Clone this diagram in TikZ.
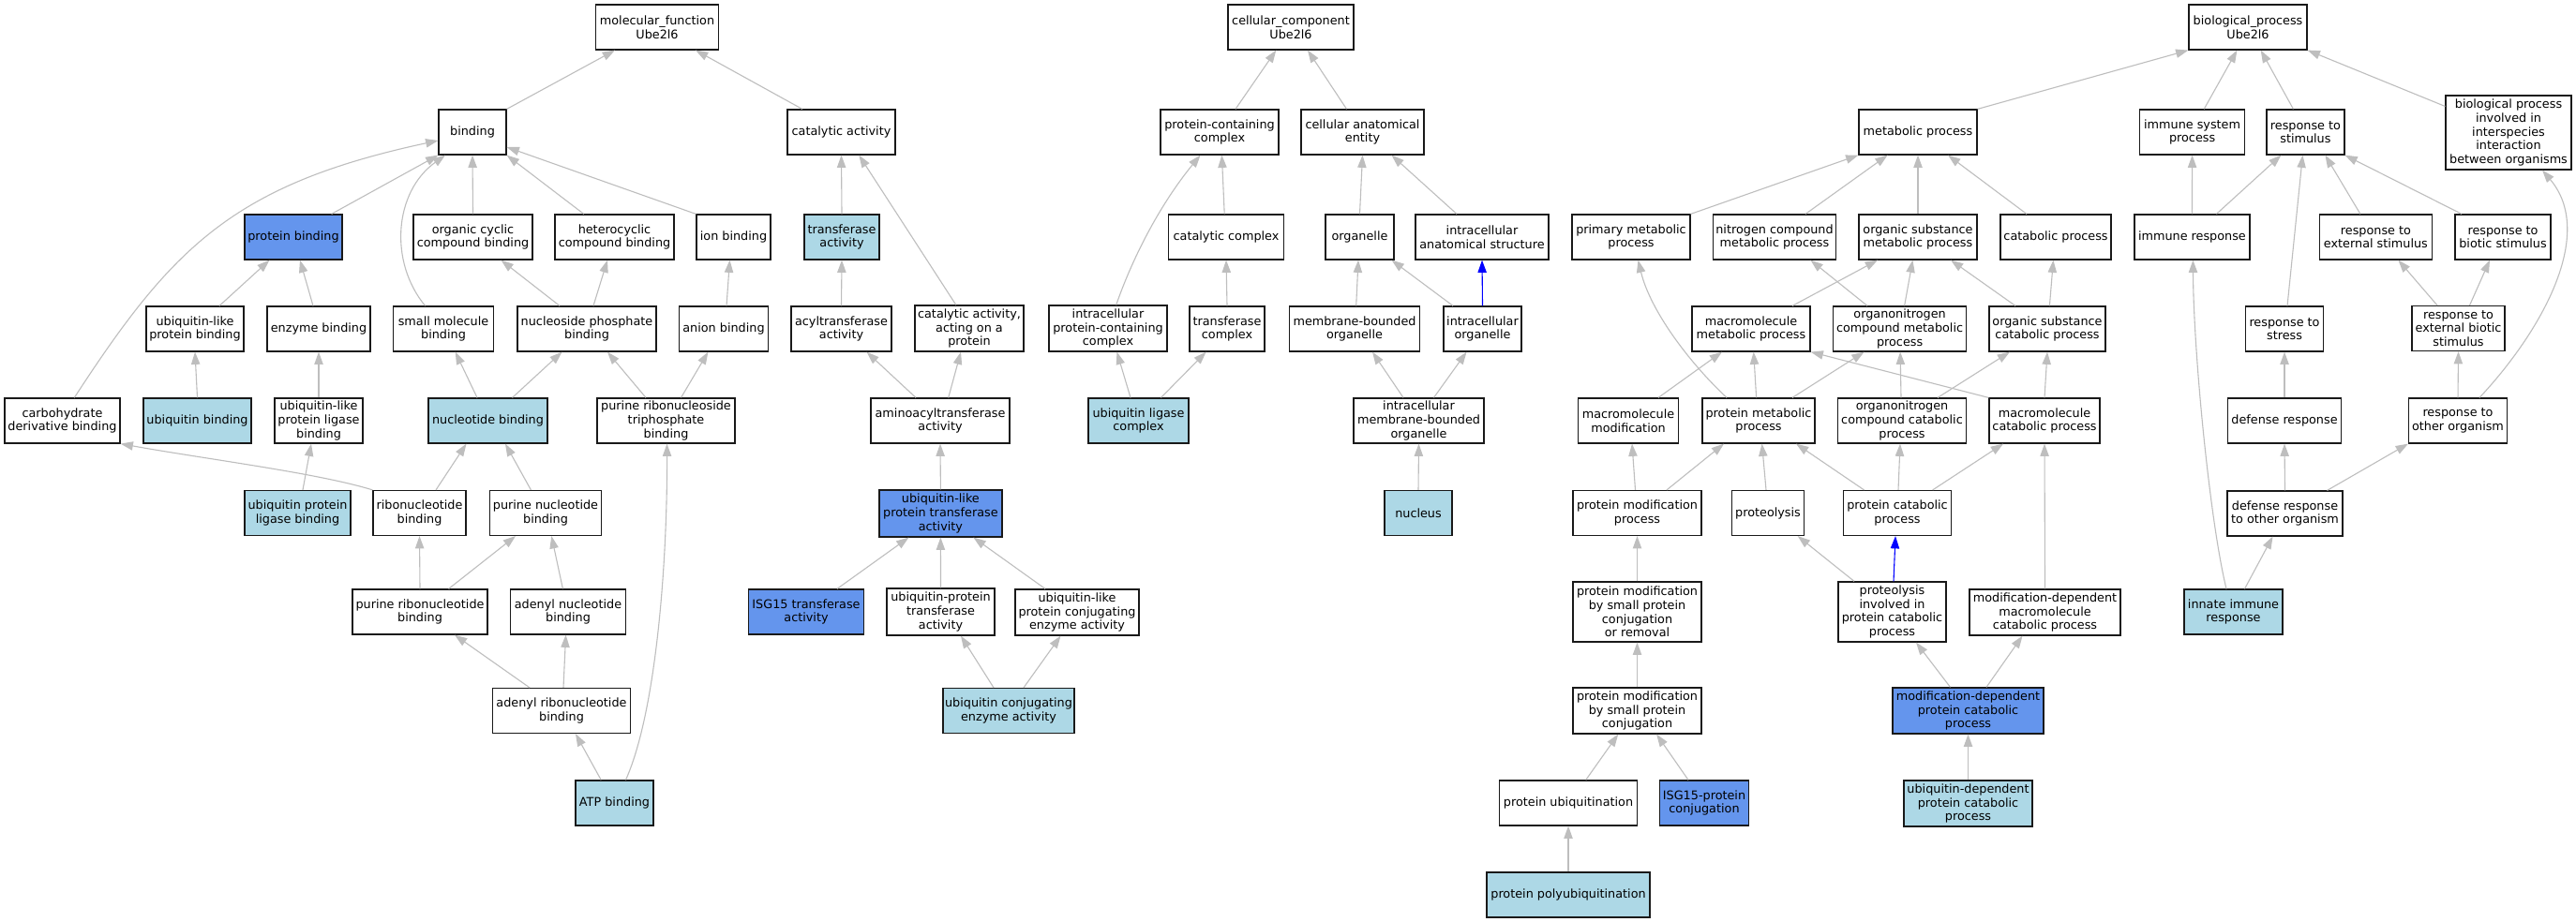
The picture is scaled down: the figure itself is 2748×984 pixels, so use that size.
\documentclass[tikz,border=0pt]{standalone}
\usepackage{fontspec}
\usetikzlibrary{arrows.meta}
\newfontfamily\gofam{DejaVu Sans}
\newcommand\gofont{\gofam\fontsize{12.8}{14.7}\selectfont}
\definecolor{edgegray}{HTML}{BEBEBE}
\definecolor{lblue}{HTML}{ADD8E6}
\definecolor{cblue}{HTML}{6495ED}
\tikzset{
  gobox/.style={draw=black!90, line width=1.2pt, rectangle, inner sep=0pt, align=center, font=\gofont, fill=white, minimum height=48pt},
  lb/.style={fill=lblue},
  db/.style={fill=cblue},
  goedge/.style={draw=edgegray, line width=1.1pt, -{Triangle[length=13.3pt,width=9.3pt]}},
  blueedge/.style={goedge, draw=blue}
}
\begin{document}
\begin{tikzpicture}[x=1pt,y=-1pt]
\useasboundingbox[fill=white] (0,0) rectangle (2748,984);
% ---------------- molecular function ----------------
\node[gobox, minimum width=131pt] (mf) at (701,29) {molecular\_function\\Ube2l6};
\node[gobox, minimum width=72pt] (bind) at (504,141) {binding};
\node[gobox, minimum width=115pt] (cat) at (897.5,141) {catalytic activity};
\node[gobox, db, minimum width=104pt] (pb) at (313,253) {protein binding};
\node[gobox, minimum width=127pt] (ocb) at (504.5,253) {organic cyclic\\compound binding};
\node[gobox, minimum width=127pt] (hcb) at (655.5,253) {heterocyclic\\compound binding};
\node[gobox, minimum width=79pt] (ionb) at (782.5,253) {ion binding};
\node[gobox, lb, minimum width=80pt] (tra) at (898,253) {transferase\\activity};
\node[gobox, minimum width=104pt] (ulpb) at (208,351) {ubiquitin-like\\protein binding};
\node[gobox, minimum width=110pt] (enz) at (340,351) {enzyme binding};
\node[gobox, minimum width=107pt] (smb) at (473,351) {small molecule\\binding};
\node[gobox, minimum width=148pt] (npb) at (626,351) {nucleoside phosphate\\binding};
\node[gobox, minimum width=95pt] (anb) at (772,351) {anion binding};
\node[gobox, minimum width=107pt] (acyl) at (897.5,351) {acyltransferase\\activity};
\node[gobox, minimum width=116pt, minimum height=49pt] (caap) at (1034,350.5) {catalytic activity,\\acting on a\\protein};
\node[gobox, minimum width=123pt] (cdb) at (66.5,449) {carbohydrate\\derivative binding};
\node[gobox, lb, minimum width=115pt] (ubb) at (210.5,449) {ubiquitin binding};
\node[gobox, minimum width=94pt] (ulplb) at (340,449) {ubiquitin-like\\protein ligase\\binding};
\node[gobox, lb, minimum width=127pt] (nucb) at (520.5,449) {nucleotide binding};
\node[gobox, minimum width=147pt] (prtb) at (710.5,449) {purine ribonucleoside\\triphosphate\\binding};
\node[gobox, minimum width=148pt] (amino) at (1003,449) {aminoacyltransferase\\activity};
\node[gobox, lb, minimum width=113pt] (uplb) at (317.5,547.5) {ubiquitin protein\\ligase binding};
\node[gobox, minimum width=99pt] (ribb) at (447.5,547.5) {ribonucleotide\\binding};
\node[gobox, minimum width=119pt] (pnb) at (582,547.5) {purine nucleotide\\binding};
\node[gobox, db, minimum width=131pt, minimum height=50pt] (ulpt) at (1003.4,548) {ubiquitin-like\\protein transferase\\activity};
\node[gobox, minimum width=144pt] (prb) at (448,653) {purine ribonucleotide\\binding};
\node[gobox, minimum width=123pt] (adnb) at (606,653) {adenyl nucleotide\\binding};
\node[gobox, db, minimum width=123pt] (isgt) at (860,653) {ISG15 transferase\\activity};
\node[gobox, minimum width=115pt, minimum height=50pt] (upt) at (1003.5,653) {ubiquitin-protein\\transferase\\activity};
\node[gobox, minimum width=132pt, minimum height=49pt] (ulpce) at (1149,653.5) {ubiquitin-like\\protein conjugating\\enzyme activity};
\node[gobox, minimum width=147pt] (arb) at (599,758.5) {adenyl ribonucleotide\\binding};
\node[gobox, lb, minimum width=140pt] (uce) at (1076,758.5) {ubiquitin conjugating\\enzyme activity};
\node[gobox, lb, minimum width=83pt] (atp) at (655.5,857) {ATP binding};
% ---------------- cellular component ----------------
\node[gobox, minimum width=134pt] (cc) at (1377,29) {cellular\_component\\Ube2l6};
\node[gobox, minimum width=126pt] (pcc) at (1301,141) {protein-containing\\complex};
\node[gobox, minimum width=131pt] (cae) at (1453.5,141) {cellular anatomical\\entity};
\node[gobox, minimum width=123pt] (catc) at (1308,253) {catalytic complex};
\node[gobox, minimum width=73pt] (org) at (1450.5,253) {organelle};
\node[gobox, minimum width=142pt] (ias) at (1581,253) {intracellular\\anatomical structure};
\node[gobox, minimum width=126pt, minimum height=49pt] (ipcc) at (1182,350.5) {intracellular\\protein-containing\\complex};
\node[gobox, minimum width=80pt] (tc) at (1309,351) {transferase\\complex};
\node[gobox, minimum width=139pt] (mbo) at (1445,351) {membrane-bounded\\organelle};
\node[gobox, minimum width=83pt] (io) at (1581.5,351) {intracellular\\organelle};
\node[gobox, lb, minimum width=107pt] (ulc) at (1214.5,449) {ubiquitin ligase\\complex};
\node[gobox, minimum width=139pt] (imbo) at (1513.5,449) {intracellular\\membrane-bounded\\organelle};
\node[gobox, lb, minimum width=72pt] (nuc) at (1513,547.5) {nucleus};
% ---------------- biological process ----------------
\node[gobox, minimum width=126pt] (bp) at (2398,29) {biological\_process\\Ube2l6};
\node[gobox, minimum width=126pt] (mp) at (2046,141) {metabolic process};
\node[gobox, minimum width=112pt] (isp) at (2338.6,141) {immune system\\process};
\node[gobox, minimum width=83pt] (rs) at (2459.4,141) {response to\\stimulus};
\node[gobox, minimum width=134pt, minimum height=79pt] (bpii) at (2676,141.5) {biological process\\involved in\\interspecies\\interaction\\between organisms};
\node[gobox, minimum width=126pt] (primp) at (1740,253) {primary metabolic\\process};
\node[gobox, minimum width=131pt] (ncmp) at (1893,253) {nitrogen compound\\metabolic process};
\node[gobox, minimum width=126pt] (osmp) at (2046,253) {organic substance\\metabolic process};
\node[gobox, minimum width=118pt] (catp) at (2193,253) {catabolic process};
\node[gobox, minimum width=123pt] (ir) at (2338.4,253) {immune response};
\node[gobox, minimum width=120.5pt] (res) at (2534.4,253) {response to\\external stimulus};
\node[gobox, minimum width=102pt] (rbs) at (2670,253) {response to\\biotic stimulus};
\node[gobox, minimum width=126pt] (mmp) at (1868,351) {macromolecule\\metabolic process};
\node[gobox, minimum width=142pt] (oncmp) at (2026.6,351) {organonitrogen\\compound metabolic\\process};
\node[gobox, minimum width=124pt] (oscp) at (2184,351) {organic substance\\catabolic process};
\node[gobox, minimum width=83pt] (rst) at (2437,351) {response to\\stress};
\node[gobox, minimum width=99pt] (rebs) at (2622.5,350.5) {response to\\external biotic\\stimulus};
\node[gobox, minimum width=107pt] (mm) at (1737,449) {macromolecule\\modification};
\node[gobox, minimum width=120pt] (pm) at (1876,449) {protein metabolic\\process};
\node[gobox, minimum width=137pt] (onccp) at (2029,449) {organonitrogen\\compound catabolic\\process};
\node[gobox, minimum width=118pt] (mcp) at (2181,449) {macromolecule\\catabolic process};
\node[gobox, minimum width=121pt] (dr) at (2437,449) {defense response};
\node[gobox, minimum width=105pt] (roo) at (2622,449) {response to\\other organism};
\node[gobox, minimum width=137pt] (pmodp) at (1746.5,547.5) {protein modification\\process};
\node[gobox, minimum width=77.5pt] (prot) at (1886,547.5) {proteolysis};
\node[gobox, minimum width=114.5pt] (pcp) at (2024,547.5) {protein catabolic\\process};
\node[gobox, minimum width=123pt] (drtoo) at (2437.5,548) {defense response\\to other organism};
\node[gobox, minimum width=137pt, minimum height=64pt] (pmspcr) at (1746.5,653) {protein modification\\by small protein\\conjugation\\or removal};
\node[gobox, minimum width=115pt, minimum height=64pt] (pipcp) at (2018.5,653) {proteolysis\\involved in\\protein catabolic\\process};
\node[gobox, minimum width=161pt, minimum height=49pt] (mdmcp) at (2181.5,653.5) {modification-dependent\\macromolecule\\catabolic process};
\node[gobox, lb, minimum width=105pt] (iir) at (2382.5,653) {innate immune\\response};
\node[gobox, minimum width=137pt, minimum height=49pt] (pmspc) at (1746.5,758.5) {protein modification\\by small protein\\conjugation};
\node[gobox, db, minimum width=161pt, minimum height=49pt] (mdpcp) at (2099.5,758.5) {modification-dependent\\protein catabolic\\process};
\node[gobox, minimum width=146.5pt] (pu) at (1673,857) {protein ubiquitination};
\node[gobox, db, minimum width=94.6pt] (isgc) at (1818,857) {ISG15-protein\\conjugation};
\node[gobox, lb, minimum width=137pt, minimum height=49pt] (udpcp) at (2099.5,857.5) {ubiquitin-dependent\\protein catabolic\\process};
\node[gobox, lb, minimum width=174pt] (ppu) at (1673,955) {protein polyubiquitination};
% ================= edges: molecular function =================
\draw[goedge] (bind.north east) -- ([xshift=-45pt]mf.south);
\draw[goedge] ([xshift=-41.7pt]cat.north) -- ([xshift=41pt]mf.south);
\draw[goedge] ([xshift=40.6pt]pb.north) -- (bind.south west);
\draw[goedge] (ocb.north) -- (bind.south);
\draw[goedge] ([xshift=-32.7pt]hcb.north) -- (bind.south east);
\draw[goedge] (ionb.north west) -- ([yshift=-16pt]bind.east);
\draw[goedge] ([xshift=-19.4pt]smb.north) .. controls (415,280) and (420,205) .. ([xshift=-29pt]bind.south);
\draw[goedge] ([xshift=12.8pt]cdb.north) .. controls (183,265) and (248,197) .. ([yshift=-9pt]bind.west);
\draw[goedge] ([xshift=26pt]ulpb.north) -- ([xshift=-25.5pt]pb.south);
\draw[goedge] ([xshift=-6pt]enz.north) -- ([xshift=7pt]pb.south);
\draw[goedge] (ubb.north) -- (ulpb.south);
\draw[goedge] (ulplb.north) -- (enz.south);
\draw[goedge] ([xshift=5.5pt]uplb.north) -- ([xshift=-8pt]ulplb.south);
\draw[goedge] ([xshift=-29pt]npb.north) -- ([xshift=30pt]ocb.south);
\draw[goedge] ([xshift=7pt]npb.north) -- ([xshift=-7.5pt]hcb.south);
\draw[goedge] ([xshift=3pt]anb.north) -- ([xshift=-4pt]ionb.south);
\draw[goedge] ([xshift=-11.5pt]nucb.north) -- ([xshift=12.7pt]smb.south);
\draw[goedge] ([xshift=26pt]nucb.north) -- ([xshift=-26.5pt]npb.south);
\draw[goedge] ([xshift=-21.5pt]prtb.north) -- ([xshift=22pt]npb.south);
\draw[goedge] ([xshift=16pt]prtb.north) -- ([xshift=-16.6pt]anb.south);
\draw[goedge] (ribb.north west) .. controls (340,505) and (220,490) .. (cdb.south east);
\draw[goedge] ([xshift=17.5pt]ribb.north) -- ([xshift=-23pt]nucb.south);
\draw[goedge] ([xshift=-15.6pt]pnb.north) -- ([xshift=18.5pt]nucb.south);
\draw[goedge] (prb.north) -- (ribb.south);
\draw[goedge] ([xshift=30.6pt]prb.north) -- ([xshift=-32pt]pnb.south);
\draw[goedge] ([xshift=-5.6pt]adnb.north) -- ([xshift=6.3pt]pnb.south);
\draw[goedge] ([xshift=-34pt]arb.north) -- ([xshift=37pt]prb.south);
\draw[goedge] ([xshift=2pt]arb.north) -- ([xshift=-2.4pt]adnb.south);
\draw[goedge] ([xshift=-14.3pt]atp.north) -- ([xshift=15pt]arb.south);
\draw[goedge] ([xshift=12pt]atp.north) .. controls (700,760) and (712,600) .. ([xshift=1pt]prtb.south);
\draw[goedge] (tra.north) -- (cat.south);
\draw[goedge] ([xshift=-14.2pt]caap.north) -- ([xshift=18.8pt]cat.south);
\draw[goedge] (acyl.north) -- (tra.south);
\draw[goedge] ([xshift=-26pt]amino.north) -- ([xshift=27pt]acyl.south);
\draw[goedge] ([xshift=8.7pt]amino.north) -- ([xshift=-9pt]caap.south);
\draw[goedge] (ulpt.north) -- (amino.south);
\draw[goedge] ([xshift=33pt]isgt.north) -- ([xshift=-34pt]ulpt.south);
\draw[goedge] (upt.north) -- (ulpt.south);
\draw[goedge] ([xshift=-34pt]ulpce.north) -- ([xshift=35pt]ulpt.south);
\draw[goedge] ([xshift=-16pt]uce.north) -- ([xshift=21.5pt]upt.south);
\draw[goedge] ([xshift=16pt]uce.north) -- ([xshift=-17.5pt]ulpce.south);
% ================= edges: cellular component =================
\draw[goedge] ([xshift=17pt]pcc.north) -- ([xshift=-15.7pt]cc.south);
\draw[goedge] ([xshift=-17pt]cae.north) -- ([xshift=18pt]cc.south);
\draw[goedge] ([xshift=-1.8pt]catc.north) -- ([xshift=2.4pt]pcc.south);
\draw[goedge] ([xshift=8.7pt]ipcc.north) .. controls (1210,270) and (1240,215) .. ([xshift=-20.5pt]pcc.south);
\draw[goedge] (org.north) -- (cae.south);
\draw[goedge] ([xshift=-27pt]ias.north) -- ([xshift=31pt]cae.south);
\draw[goedge] (tc.north) -- (catc.south);
\draw[goedge] ([xshift=1.7pt]mbo.north) -- ([xshift=-1.5pt]org.south);
\draw[goedge] ([xshift=-31.5pt]io.north) -- ([xshift=34pt]org.south);
\draw[blueedge] (io.north) -- (ias.south);
\draw[goedge] ([xshift=-8.5pt]ulc.north) -- ([xshift=9.5pt]ipcc.south);
\draw[goedge] ([xshift=24pt]ulc.north) -- ([xshift=-22.4pt]tc.south);
\draw[goedge] ([xshift=-16.5pt]imbo.north) -- ([xshift=19pt]mbo.south);
\draw[goedge] ([xshift=16pt]imbo.north) -- ([xshift=-17pt]io.south);
\draw[goedge] (nuc.north) -- (imbo.south);
% ================= edges: biological process =================
\draw[goedge] (mp.north east) -- (bp.south west);
\draw[goedge] ([xshift=12.6pt]isp.north) -- ([xshift=-11.6pt]bp.south);
\draw[goedge] ([xshift=-13pt]rs.north) -- ([xshift=13.7pt]bp.south);
\draw[goedge] ([yshift=28pt]bpii.west) -- (bp.south east);
\draw[goedge] (primp.north east) -- (mp.south west);
\draw[goedge] ([xshift=33pt]ncmp.north) -- ([xshift=-32.4pt]mp.south);
\draw[goedge] (osmp.north) -- (mp.south);
\draw[goedge] ([xshift=-31pt]catp.north) -- ([xshift=32pt]mp.south);
\draw[goedge] ([xshift=44pt]mmp.north) -- ([xshift=-43pt]osmp.south);
\draw[goedge] ([xshift=-34.6pt]oncmp.north) -- ([xshift=38.4pt]ncmp.south);
\draw[goedge] ([xshift=5pt]oncmp.north) -- ([xshift=-5.6pt]osmp.south);
\draw[goedge] ([xshift=-34pt]oscp.north) -- ([xshift=35pt]osmp.south);
\draw[goedge] ([xshift=2.4pt]oscp.north) -- ([xshift=-2.6pt]catp.south);
\draw[goedge] ([xshift=32pt]mm.north) -- ([xshift=-31pt]mmp.south);
\draw[goedge] ([xshift=-2.4pt]pm.north) -- ([xshift=2.7pt]mmp.south);
\draw[goedge] ([xshift=36pt]pm.north) -- ([xshift=-38pt]oncmp.south);
\draw[goedge] ([xshift=-34pt]pm.north) .. controls (1800,385) and (1760,330) .. ([xshift=7.5pt]primp.south);
\draw[goedge] ([xshift=-1pt]onccp.north) -- ([xshift=0.5pt]oncmp.south);
\draw[goedge] ([xshift=38pt]onccp.north) -- ([xshift=-40pt]oscp.south);
\draw[goedge] (mcp.north west) -- (mmp.south east);
\draw[goedge] (mcp.north) -- (oscp.south);
\draw[goedge] ([xshift=-2pt]pmodp.north) -- ([xshift=4pt]mm.south);
\draw[goedge] ([xshift=31.5pt]pmodp.north) -- ([xshift=-37pt]pm.south);
\draw[goedge] ([xshift=-2pt]prot.north) -- ([xshift=3.6pt]pm.south);
\draw[goedge] ([xshift=-35.5pt]pcp.north) -- ([xshift=40pt]pm.south);
\draw[goedge] ([xshift=1pt]pcp.north) -- ([xshift=-2pt]onccp.south);
\draw[goedge] ([xshift=37.7pt]pcp.north) -- ([xshift=-44pt]mcp.south);
\draw[goedge] (pmspcr.north) -- (pmodp.south);
\draw[goedge] ([xshift=-40.5pt]pipcp.north) -- ([xshift=31.7pt]prot.south);
\draw[blueedge] ([xshift=1.5pt]pipcp.north) -- ([xshift=-2pt]pcp.south);
\draw[goedge] (mdmcp.north) -- (mcp.south);
\draw[goedge] (pmspc.north) -- (pmspcr.south);
\draw[goedge] ([xshift=-19pt]mdpcp.north) -- ([xshift=25.5pt]pipcp.south);
\draw[goedge] ([xshift=19.5pt]mdpcp.north) -- ([xshift=-24pt]mdmcp.south);
\draw[goedge] ([xshift=18.7pt]pu.north) -- ([xshift=-20.3pt]pmspc.south);
\draw[goedge] ([xshift=-17pt]isgc.north) -- ([xshift=20.6pt]pmspc.south);
\draw[goedge] (udpcp.north) -- (mdpcp.south);
\draw[goedge] (ppu.north) -- (pu.south);
\draw[goedge] (ir.north) -- (isp.south);
\draw[goedge] ([xshift=26pt]ir.north) -- ([xshift=-26pt]rs.south);
\draw[goedge] ([xshift=-16.5pt]res.north) -- ([xshift=21pt]rs.south);
\draw[goedge] ([xshift=-44pt]rbs.north) -- (rs.south east);
\draw[goedge] ([xshift=3pt]rst.north) -- ([xshift=-3pt]rs.south);
\draw[goedge] ([xshift=-22.5pt]rebs.north) -- ([xshift=24pt]res.south);
\draw[goedge] ([xshift=12pt]rebs.north) -- ([xshift=-14pt]rbs.south);
\draw[goedge] (roo.north) -- (rebs.south);
\draw[goedge] ([xshift=23pt]roo.north) .. controls (2710,355) and (2770,250) .. ([xshift=36pt]bpii.south);
\draw[goedge] (dr.north) -- (rst.south);
\draw[goedge] (drtoo.north) -- (dr.south);
\draw[goedge] ([xshift=45pt]drtoo.north) -- (roo.south west);
\draw[goedge] ([xshift=12pt]iir.north) -- ([xshift=-13pt]drtoo.south);
\draw[goedge] ([xshift=-7.5pt]iir.north) .. controls (2358,560) and (2340,380) .. ([xshift=1pt]ir.south);
\end{tikzpicture}
\end{document}
